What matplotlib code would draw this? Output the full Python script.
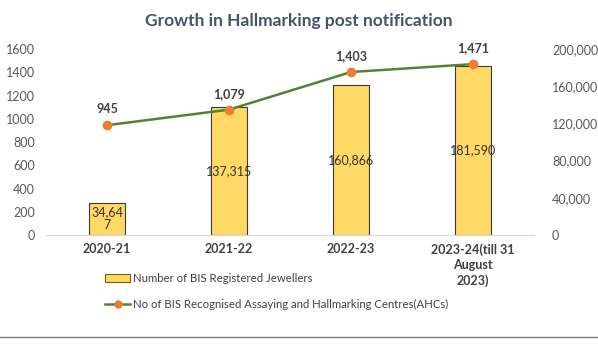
import matplotlib
matplotlib.use("Agg")
import matplotlib.pyplot as plt
from matplotlib.lines import Line2D
from matplotlib.patches import Patch

plt.rcParams["font.family"] = ["Lato", "DejaVu Sans"]

YEARS = ["2020-21", "2021-22", "2022-23", "2023-24(till 31\nAugust\n2023)"]
JEWELLERS = [34647, 137315, 160866, 181590]
JEWELLER_LABELS = ["34,64\n7", "137,315", "160,866", "181,590"]
AHCS = [945, 1079, 1403, 1471]

LEFT_TICKS = [0, 200, 400, 600, 800, 1000, 1200, 1400, 1600]
RIGHT_TICKS = [0, 40000, 80000, 120000, 160000, 200000]

BAR_COLOR = "#FFD966"
LINE_COLOR = "#548235"
MARKER_COLOR = "#ED7D31"
TEXT_COLOR = "#404040"
TICK_COLOR = "#595959"

fig = plt.figure(figsize=(5.98, 3.56), dpi=100)
ax = fig.add_axes([0.077, 0.34, 0.816, 0.522])   # line, left axis
ax2 = ax.twinx()                                  # bars, right axis
ax.set_zorder(ax2.get_zorder() + 1)
ax.patch.set_visible(False)

x = range(len(YEARS))

# Bars: registered jewellers
bars = ax2.bar(x, JEWELLERS, width=0.29, color=BAR_COLOR,
               edgecolor="#3a3a3a", linewidth=0.8)
ax2.bar_label(bars, labels=JEWELLER_LABELS, label_type="center",
              fontsize=9, color="#333333", linespacing=1.1)
ax2.set_ylim(0, 200000)
ax2.set_yticks(RIGHT_TICKS)
ax2.set_yticklabels([f"{v:,}" for v in RIGHT_TICKS])

# Line: AHCs
ax.plot(x, AHCS, color=LINE_COLOR, linewidth=1.8, marker="o",
        markersize=6, markerfacecolor=MARKER_COLOR,
        markeredgecolor=MARKER_COLOR)
for xi, v in zip(x, AHCS):
    ax.annotate(f"{v:,}", (xi, v), xytext=(0, 7), textcoords="offset points",
                ha="center", va="bottom", fontsize=9, fontweight="bold",
                color=TEXT_COLOR)
ax.set_ylim(0, 1600)
ax.set_yticks(LEFT_TICKS)
ax.set_xlim(-0.5, len(YEARS) - 0.5)
ax.set_xticks(list(x))
ax.set_xticklabels(YEARS, fontsize=9, fontweight="bold", color=TEXT_COLOR,
                   linespacing=1.3)

for a in (ax, ax2):
    for side in ("top", "left", "right"):
        a.spines[side].set_visible(False)
    a.spines["bottom"].set_color("#d9d9d9")
    a.tick_params(length=0, labelsize=9, labelcolor=TICK_COLOR)
ax.tick_params(axis="y", pad=8)
ax2.tick_params(axis="y", pad=13)
ax.tick_params(axis="x", pad=6, labelcolor=TEXT_COLOR)

fig.text(0.5, 0.94, "Growth in Hallmarking post notification",
         ha="center", va="center", fontsize=12.5, fontweight="bold",
         color="#44546A")

handles = [
    Patch(facecolor=BAR_COLOR, edgecolor="#7f6000", linewidth=0.8),
    Line2D([0], [0], color=LINE_COLOR, linewidth=1.8, marker="o",
           markersize=5, markerfacecolor=MARKER_COLOR,
           markeredgecolor=MARKER_COLOR),
]
labels = ["Number of BIS Registered Jewellers",
          "No of BIS Recognised Assaying and Hallmarking Centres(AHCs)"]
fig.legend(handles, labels, loc="upper left",
           bbox_to_anchor=(0.168, 0.245), frameon=False, fontsize=8.2,
           labelcolor=TEXT_COLOR, handlelength=2.2, handletextpad=0.3,
           labelspacing=1.3, borderaxespad=0)

fig.add_artist(Line2D([0, 1], [0.053, 0.053], color="#7f7f7f",
                      linewidth=1, transform=fig.transFigure))

fig.savefig("out.png", dpi=100)
